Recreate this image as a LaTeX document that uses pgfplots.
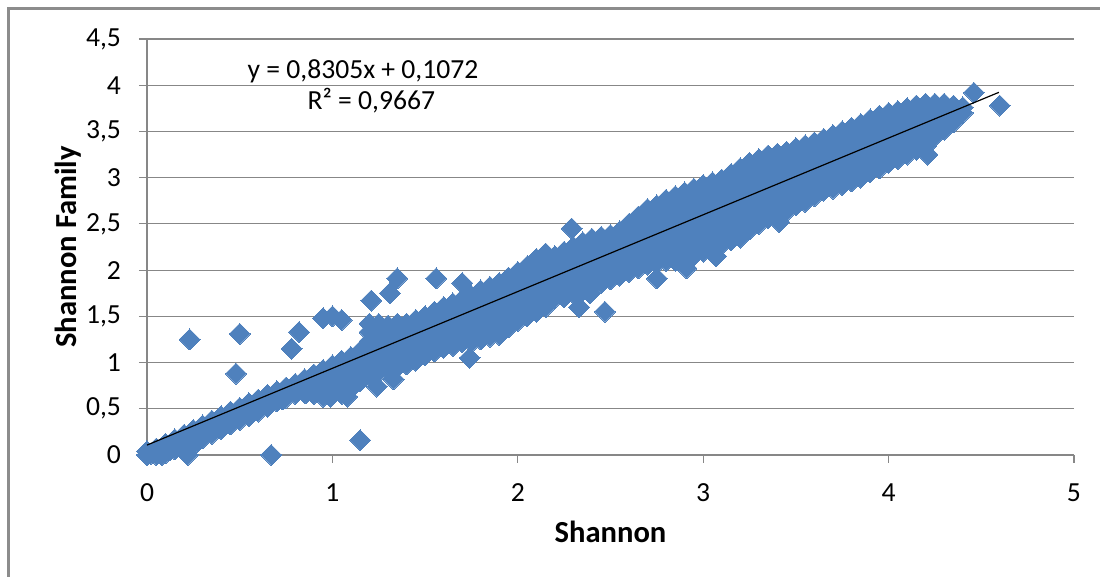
\documentclass[border=0pt]{standalone}
\usepackage{pgfplots}
\pgfplotsset{compat=1.18}
\usepackage{fontspec}
\setmainfont{Carlito}
\definecolor{mblue}{HTML}{4F81BD}
\definecolor{gridc}{HTML}{878787}
\definecolor{framec}{HTML}{8C8C8C}
\begin{document}
\begin{tikzpicture}
\useasboundingbox (-73.5pt,-61pt) rectangle (476.5pt,227.5pt);
\draw[framec, line width=1.5pt] (-69pt,-62pt) -- (-69pt,223pt) -- (477pt,223pt);
\begin{axis}[
  at={(0,0)}, anchor=origin,
  scale only axis, width=463.5pt, height=208pt,
  xmin=0, xmax=5, ymin=0, ymax=4.5,
  xtick={0,1,2,3,4,5}, ytick={0,0.5,1,1.5,2,2.5,3,3.5,4,4.5},
  axis x line=bottom, axis y line=left,
  axis line style={-, draw=gridc, line width=0.6pt},
  tick align=outside, major tick length=4pt,
  tick style={draw=gridc, line width=0.6pt},
  ymajorgrids, grid style={draw=gridc, line width=0.6pt},
  /pgf/number format/use comma, /pgf/number format/assume math mode=true,
  ticklabel style={font=\fontsize{13.8}{16}\selectfont, text=black},
  yticklabel style={xshift=-5.5pt},
  xticklabel style={yshift=-7pt},
  xlabel={\textbf{Shannon}}, ylabel={\textbf{Shannon Family}},
  label style={font=\fontsize{15.3}{18}\selectfont},
  xlabel style={at={(axis description cs:0.5,-0.185)}, anchor=center},
  ylabel style={at={(axis description cs:-0.0855,0.5)}, anchor=center},
  clip=false, clip marker paths=true,
]
\addplot[only marks, mark=square*, mark size=3.7pt, mark options={rotate=45, fill=mblue, draw=mblue, line width=0pt}] coordinates {
(0,0) (0.02,0.01) (0.04,0.03) (0.08,0.0) (0.12,0.05) (0.22,0) (0.23,1.25) (0.5,1.31) (0.48,0.88) (0.67,0) (1.15,0.16)
(0.78,1.15) (0.82,1.33) (0.95,1.48) (1.0,1.5) (1.05,1.46) (1.21,1.67) (1.31,1.75) (1.35,1.91) (1.56,1.91)
(1.24,0.74) (1.33,0.82) (1.7,1.86) (1.74,1.05) (2.29,2.45) (2.47,1.55) (2.33,1.6) (2.25,1.71) (2.39,1.75)
(2.75,1.91) (2.91,2.02) (3.07,2.15) (3.2,2.35) (3.41,2.52) (4.21,3.25) (4.32,3.65) (4.46,3.92) (4.6,3.78)
(1.08,0.63) (0.99,0.63) (0.73,0.6) (0.86,0.67) (0.27,0.14)
(0.00,0.00) (0.00,0.04)
(0.05,0.00) (0.05,0.07)
(0.10,0.02) (0.10,0.12)
(0.15,0.06) (0.15,0.17)
(0.20,0.10) (0.20,0.22)
(0.25,0.14) (0.25,0.27)
(0.30,0.18) (0.30,0.32)
(0.35,0.23) (0.35,0.37)
(0.40,0.28) (0.40,0.42)
(0.45,0.33) (0.45,0.47)
(0.50,0.38) (0.50,0.51)
(0.55,0.42) (0.55,0.56)
(0.60,0.47) (0.60,0.60)
(0.65,0.52) (0.65,0.65)
(0.70,0.58) (0.70,0.69)
(0.75,0.62) (0.75,0.73)
(0.80,0.66) (0.80,0.77)
(0.85,0.67) (0.85,0.75) (0.85,0.82)
(0.90,0.66) (0.90,0.76) (0.90,0.87)
(0.95,0.63) (0.95,0.73) (0.95,0.83) (0.95,0.92)
(1.00,0.66) (1.00,0.76) (1.00,0.87) (1.00,0.97)
(1.05,0.66) (1.05,0.75) (1.05,0.84) (1.05,0.93) (1.05,1.02)
(1.10,0.72) (1.10,0.81) (1.10,0.89) (1.10,0.98) (1.10,1.06)
(1.15,0.80) (1.15,0.88) (1.15,0.96) (1.15,1.04) (1.15,1.12)
(1.20,0.86) (1.20,0.95) (1.20,1.04) (1.20,1.13) (1.20,1.23) (1.20,1.33) (1.20,1.42)
(1.25,0.90) (1.25,0.99) (1.25,1.08) (1.25,1.16) (1.25,1.25) (1.25,1.34) (1.25,1.42)
(1.30,0.92) (1.30,1.02) (1.30,1.12) (1.30,1.21) (1.30,1.31) (1.30,1.40)
(1.35,0.95) (1.35,1.04) (1.35,1.14) (1.35,1.23) (1.35,1.33) (1.35,1.42)
(1.40,0.98) (1.40,1.07) (1.40,1.16) (1.40,1.24) (1.40,1.33) (1.40,1.42)
(1.45,1.02) (1.45,1.11) (1.45,1.19) (1.45,1.28) (1.45,1.37) (1.45,1.46)
(1.50,1.08) (1.50,1.16) (1.50,1.25) (1.50,1.33) (1.50,1.42) (1.50,1.50)
(1.55,1.12) (1.55,1.21) (1.55,1.29) (1.55,1.38) (1.55,1.46) (1.55,1.55)
(1.60,1.16) (1.60,1.25) (1.60,1.34) (1.60,1.42) (1.60,1.51) (1.60,1.60)
(1.65,1.18) (1.65,1.27) (1.65,1.36) (1.65,1.46) (1.65,1.55) (1.65,1.64)
(1.70,1.22) (1.70,1.31) (1.70,1.40) (1.70,1.50) (1.70,1.59) (1.70,1.68)
(1.75,1.22) (1.75,1.32) (1.75,1.42) (1.75,1.52) (1.75,1.62) (1.75,1.72)
(1.80,1.25) (1.80,1.36) (1.80,1.46) (1.80,1.57) (1.80,1.67) (1.80,1.78)
(1.85,1.28) (1.85,1.39) (1.85,1.49) (1.85,1.60) (1.85,1.71) (1.85,1.82)
(1.90,1.30) (1.90,1.41) (1.90,1.52) (1.90,1.64) (1.90,1.75) (1.90,1.86)
(1.95,1.38) (1.95,1.49) (1.95,1.60) (1.95,1.70) (1.95,1.81) (1.95,1.92)
(2.00,1.45) (2.00,1.56) (2.00,1.66) (2.00,1.77) (2.00,1.87) (2.00,1.98)
(2.05,1.50) (2.05,1.61) (2.05,1.72) (2.05,1.82) (2.05,1.93) (2.05,2.04)
(2.10,1.55) (2.10,1.64) (2.10,1.74) (2.10,1.83) (2.10,1.93) (2.10,2.02) (2.10,2.12)
(2.15,1.60) (2.15,1.70) (2.15,1.79) (2.15,1.89) (2.15,1.99) (2.15,2.08) (2.15,2.18)
(2.20,1.70) (2.20,1.79) (2.20,1.88) (2.20,1.97) (2.20,2.06) (2.20,2.15)
(2.25,1.72) (2.25,1.82) (2.25,1.91) (2.25,2.01) (2.25,2.10) (2.25,2.20)
(2.30,1.75) (2.30,1.85) (2.30,1.95) (2.30,2.05) (2.30,2.15) (2.30,2.25)
(2.35,1.78) (2.35,1.88) (2.35,1.99) (2.35,2.09) (2.35,2.20) (2.35,2.30)
(2.40,1.82) (2.40,1.92) (2.40,2.03) (2.40,2.13) (2.40,2.24) (2.40,2.34)
(2.45,1.86) (2.45,1.96) (2.45,2.06) (2.45,2.16) (2.45,2.26) (2.45,2.36)
(2.50,1.90) (2.50,2.00) (2.50,2.09) (2.50,2.19) (2.50,2.28) (2.50,2.38)
(2.55,1.94) (2.55,2.04) (2.55,2.13) (2.55,2.23) (2.55,2.32) (2.55,2.42)
(2.60,1.98) (2.60,2.08) (2.60,2.19) (2.60,2.29) (2.60,2.40) (2.60,2.50)
(2.65,2.02) (2.65,2.13) (2.65,2.24) (2.65,2.36) (2.65,2.47) (2.65,2.58)
(2.70,2.06) (2.70,2.16) (2.70,2.26) (2.70,2.36) (2.70,2.46) (2.70,2.56) (2.70,2.66)
(2.75,2.08) (2.75,2.18) (2.75,2.29) (2.75,2.39) (2.75,2.49) (2.75,2.60) (2.75,2.70)
(2.80,2.10) (2.80,2.21) (2.80,2.32) (2.80,2.43) (2.80,2.54) (2.80,2.65) (2.80,2.76)
(2.85,2.10) (2.85,2.20) (2.85,2.30) (2.85,2.40) (2.85,2.50) (2.85,2.60) (2.85,2.70) (2.85,2.80)
(2.90,2.14) (2.90,2.24) (2.90,2.34) (2.90,2.44) (2.90,2.54) (2.90,2.64) (2.90,2.74) (2.90,2.84)
(2.95,2.16) (2.95,2.26) (2.95,2.37) (2.95,2.47) (2.95,2.57) (2.95,2.67) (2.95,2.78) (2.95,2.88)
(3.00,2.20) (3.00,2.30) (3.00,2.41) (3.00,2.51) (3.00,2.61) (3.00,2.71) (3.00,2.82) (3.00,2.92)
(3.05,2.24) (3.05,2.34) (3.05,2.44) (3.05,2.54) (3.05,2.65) (3.05,2.75) (3.05,2.85) (3.05,2.95)
(3.10,2.28) (3.10,2.38) (3.10,2.48) (3.10,2.58) (3.10,2.68) (3.10,2.78) (3.10,2.88) (3.10,2.98)
(3.15,2.32) (3.15,2.42) (3.15,2.53) (3.15,2.63) (3.15,2.73) (3.15,2.83) (3.15,2.94) (3.15,3.04)
(3.20,2.38) (3.20,2.48) (3.20,2.59) (3.20,2.69) (3.20,2.79) (3.20,2.89) (3.20,3.00) (3.20,3.10)
(3.25,2.44) (3.25,2.54) (3.25,2.64) (3.25,2.75) (3.25,2.85) (3.25,2.95) (3.25,3.06) (3.25,3.16)
(3.30,2.50) (3.30,2.60) (3.30,2.70) (3.30,2.80) (3.30,2.90) (3.30,3.00) (3.30,3.10) (3.30,3.20)
(3.35,2.56) (3.35,2.66) (3.35,2.75) (3.35,2.85) (3.35,2.95) (3.35,3.05) (3.35,3.14) (3.35,3.24)
(3.40,2.60) (3.40,2.69) (3.40,2.79) (3.40,2.88) (3.40,2.98) (3.40,3.07) (3.40,3.17) (3.40,3.26)
(3.45,2.64) (3.45,2.73) (3.45,2.83) (3.45,2.92) (3.45,3.01) (3.45,3.10) (3.45,3.19) (3.45,3.28)
(3.50,2.70) (3.50,2.79) (3.50,2.88) (3.50,2.97) (3.50,3.05) (3.50,3.14) (3.50,3.23) (3.50,3.32)
(3.55,2.74) (3.55,2.83) (3.55,2.92) (3.55,3.00) (3.55,3.09) (3.55,3.18) (3.55,3.26) (3.55,3.35)
(3.60,2.80) (3.60,2.88) (3.60,2.97) (3.60,3.05) (3.60,3.13) (3.60,3.21) (3.60,3.30) (3.60,3.38)
(3.65,2.86) (3.65,2.94) (3.65,3.02) (3.65,3.10) (3.65,3.18) (3.65,3.26) (3.65,3.34) (3.65,3.42)
(3.70,2.88) (3.70,2.96) (3.70,3.04) (3.70,3.13) (3.70,3.21) (3.70,3.29) (3.70,3.38) (3.70,3.46)
(3.75,2.92) (3.75,3.00) (3.75,3.09) (3.75,3.17) (3.75,3.25) (3.75,3.33) (3.75,3.42) (3.75,3.50)
(3.80,2.96) (3.80,3.04) (3.80,3.13) (3.80,3.21) (3.80,3.29) (3.80,3.37) (3.80,3.46) (3.80,3.54)
(3.85,3.00) (3.85,3.08) (3.85,3.17) (3.85,3.25) (3.85,3.33) (3.85,3.41) (3.85,3.50) (3.85,3.58)
(3.90,3.06) (3.90,3.14) (3.90,3.22) (3.90,3.31) (3.90,3.39) (3.90,3.47) (3.90,3.55) (3.90,3.63)
(3.95,3.10) (3.95,3.18) (3.95,3.27) (3.95,3.35) (3.95,3.43) (3.95,3.51) (3.95,3.59) (3.95,3.67)
(4.00,3.16) (4.00,3.25) (4.00,3.34) (4.00,3.43) (4.00,3.52) (4.00,3.61) (4.00,3.70)
(4.05,3.20) (4.05,3.29) (4.05,3.38) (4.05,3.46) (4.05,3.55) (4.05,3.63) (4.05,3.72)
(4.10,3.25) (4.10,3.33) (4.10,3.42) (4.10,3.50) (4.10,3.58) (4.10,3.67) (4.10,3.75)
(4.15,3.30) (4.15,3.38) (4.15,3.46) (4.15,3.54) (4.15,3.62) (4.15,3.70) (4.15,3.78)
(4.20,3.34) (4.20,3.42) (4.20,3.50) (4.20,3.57) (4.20,3.65) (4.20,3.72) (4.20,3.80)
(4.25,3.45) (4.25,3.54) (4.25,3.62) (4.25,3.71) (4.25,3.80)
(4.30,3.52) (4.30,3.61) (4.30,3.71) (4.30,3.80)
(4.35,3.60) (4.35,3.69) (4.35,3.78)
(4.40,3.70) (4.40,3.76)
};
\addplot[black, line width=0.6pt] coordinates {(0,0.1072) (4.595,3.923)};
\node[font=\fontsize{13.8}{16}\selectfont] at (axis cs:1.165,4.154) {y = 0,8305x + 0,1072};
\node[font=\fontsize{13.8}{16}\selectfont] at (axis cs:1.21,3.83) {R² = 0,9667};
\end{axis}
\end{tikzpicture}
\end{document}
